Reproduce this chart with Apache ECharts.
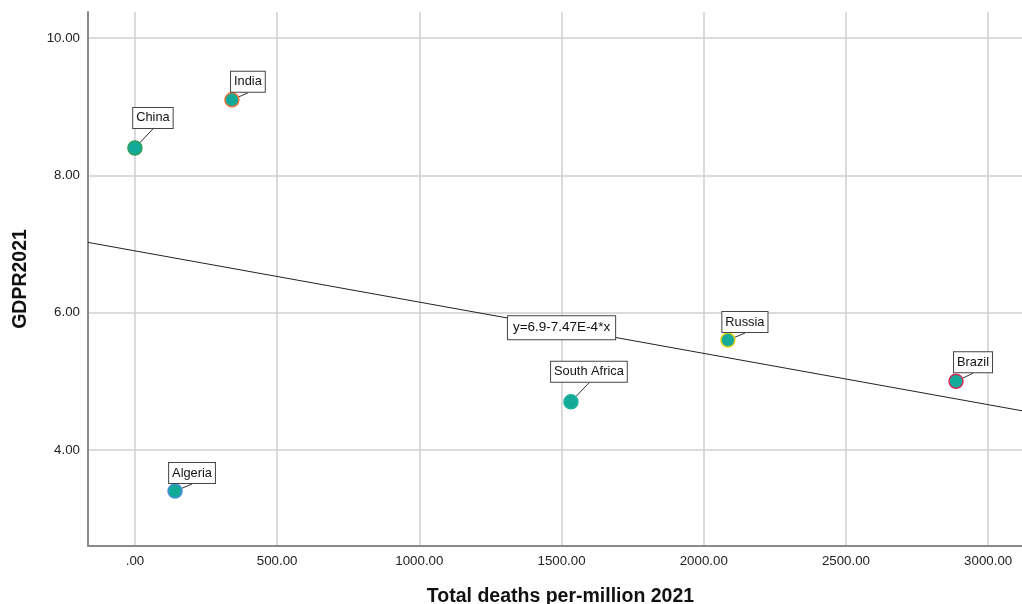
<!DOCTYPE html>
<html>
<head>
<meta charset="utf-8">
<script src="https://cdn.jsdelivr.net/npm/echarts@6/dist/echarts.min.js"></script>
<style>
  html, body { margin: 0; padding: 0; background: #fff; }
  #chart { width: 1022px; height: 604px; }
</style>
</head>
<body>
<div id="chart"></div>
<script>
// Countries and their values
const countries = ['China', 'India', 'Algeria', 'South Africa', 'Russia', 'Brazil'];
const deathsPerMillion = [0, 341, 141, 1533, 2085, 2887];
const gdpr2021 = [8.4, 9.1, 3.4, 4.7, 5.6, 5.0];

// Linear fit: y = intercept + slope * x
const fitIntercept = 6.9;
const fitSlope = -7.47e-4;
const fitLabel = 'y=6.9-7.47E-4*x';
const fitLabelAtX = 1500;

// Axis ticks
const xTicks = [0, 500, 1000, 1500, 2000, 2500, 3000];
const yTicks = [4, 6, 8, 10];

// Axis extents
const xMin = -165, xMax = 3119;
const yMin = 2.6, yMax = 10.38;

// Marker outline colours per country
const outline = {
  'China': '#2f9e5a',
  'India': '#e8733a',
  'Algeria': '#4a90d9',
  'South Africa': '#19b0a0',
  'Russia': '#e2d21e',
  'Brazil': '#d42a5c'
};
// Label box offsets (px) from each marker centre
const labelShift = {
  'China': [18, -30],
  'India': [16, -18],
  'Algeria': [17, -18],
  'South Africa': [18, -30],
  'Russia': [17, -18],
  'Brazil': [17, -19]
};

const font = 'Liberation Sans, Arial, sans-serif';
const fmt = v => (v === 0 ? '.00' : v.toFixed(2));
const fitAt = x => fitIntercept + fitSlope * x;

const pointData = countries.map((c, i) => ({
  name: c,
  value: [deathsPerMillion[i], gdpr2021[i]],
  itemStyle: { borderColor: outline[c] }
}));

const boxLabel = {
  backgroundColor: '#fff', borderColor: '#444', borderWidth: 1,
  color: '#111', fontFamily: font
};

const chart = echarts.init(document.getElementById('chart'), null, { renderer: 'canvas' });
chart.setOption({
  animation: false,
  backgroundColor: '#fff',
  grid: { left: 88, right: 0, top: 12, bottom: 58, containLabel: false, outerBoundsMode: 'none' },
  xAxis: {
    type: 'value', min: xMin, max: xMax,
    name: 'Total deaths per-million 2021', nameLocation: 'middle', nameGap: 41,
    nameMoveOverlap: false,
    nameTextStyle: { fontSize: 19.5, fontWeight: 'bold', color: '#111', fontFamily: font, padding: [0, 0, 0, 11] },
    axisLine: { show: true, onZero: false, lineStyle: { color: '#8a8a8a', width: 2 } },
    axisTick: { show: false, customValues: xTicks },
    axisLabel: { customValues: xTicks, formatter: fmt, fontSize: 13.3, color: '#222', margin: 9, fontFamily: font },
    splitLine: { show: true, lineStyle: { color: '#cfcfcf', width: 1.5 } }
  },
  yAxis: {
    type: 'value', min: yMin, max: yMax,
    name: 'GDPR2021', nameLocation: 'middle', nameGap: 57, nameRotate: 90,
    nameMoveOverlap: false,
    nameTextStyle: { fontSize: 19.5, fontWeight: 'bold', color: '#111', fontFamily: font },
    axisLine: { show: true, onZero: false, lineStyle: { color: '#8a8a8a', width: 2 } },
    axisTick: { show: false, customValues: yTicks },
    axisLabel: { customValues: yTicks, formatter: v => v.toFixed(2), fontSize: 13.3, color: '#222', margin: 8, fontFamily: font },
    splitLine: { show: true, lineStyle: { color: '#cfcfcf', width: 1.5 } }
  },
  series: [
    {
      // fit line across the full axis range
      type: 'line',
      data: [[xMin, fitAt(xMin)], [xMax, fitAt(xMax)]],
      showSymbol: false,
      symbol: 'none',
      lineStyle: { color: '#222', width: 1 },
      silent: true,
      z: 3
    },
    {
      // equation label sitting on the fit line
      type: 'scatter',
      data: [[fitLabelAtX, fitAt(fitLabelAtX)]],
      symbolSize: 0,
      itemStyle: { color: '#fff', opacity: 1 },
      label: Object.assign({
        show: true, position: 'inside', formatter: fitLabel,
        padding: [5, 5, 4, 5], fontSize: 13.5
      }, boxLabel),
      silent: true,
      z: 4
    },
    {
      type: 'scatter',
      data: pointData,
      symbolSize: 14,
      itemStyle: { color: '#14aa9a', borderWidth: 1.5, opacity: 1 },
      label: Object.assign({
        show: true, position: 'top', formatter: p => p.name,
        padding: [4, 3, 3, 3], fontSize: 12.8
      }, boxLabel),
      labelLine: { show: true, lineStyle: { color: '#333', width: 1 } },
      labelLayout: function (p) {
        const s = labelShift[countries[p.dataIndex]];
        const cx = p.rect.x + p.rect.width / 2;
        const cy = p.rect.y + p.rect.height / 2;
        return { x: cx + s[0], y: cy + s[1], align: 'center', verticalAlign: 'middle' };
      },
      z: 5
    }
  ]
});
</script>
</body>
</html>
